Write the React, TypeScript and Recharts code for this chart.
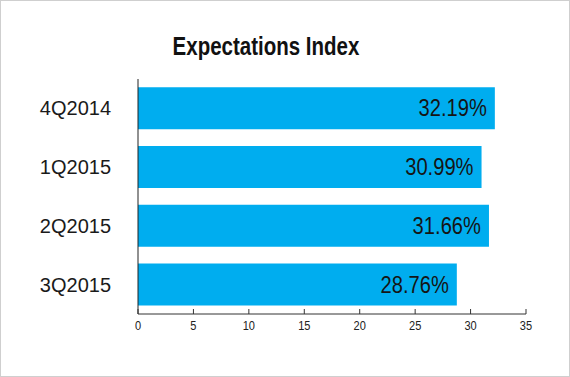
import React from "react";
import { BarChart, Bar, XAxis, YAxis, LabelList } from "recharts";

const categories = ["4Q2014", "1Q2015", "2Q2015", "3Q2015"];
const values = [32.19, 30.99, 31.66, 28.76];
const xTicks = [0, 5, 10, 15, 20, 25, 30, 35];
const title = "Expectations Index";

const data = categories.map((c, i) => ({ name: c, value: values[i] }));

const REG = "'Liberation Sans', Arial, Helvetica, sans-serif";
const SQ = 0.82;

const XTick = (props: any) => {
  const { x, y, payload } = props;
  return (
    <g>
      <line x1={x} x2={x} y1={y - 5} y2={y} stroke="#333" strokeWidth={1} />
      <text
        transform={`translate(${x},${y + 16}) scale(0.85,1)`}
        textAnchor="middle"
        fontFamily={REG}
        fontSize={13}
        fill="#222"
      >
        {payload.value}
      </text>
    </g>
  );
};

const ValueLabel = (props: any) => {
  const { x, y, width, height, value } = props;
  const tx = Number(x) + Number(width) - 8;
  const ty = Number(y) + Number(height) / 2;
  return (
    <text
      transform={`translate(${tx},${ty}) scale(0.84,1)`}
      textAnchor="end"
      dominantBaseline="central"
      fontFamily={REG}
      fontSize={24}
      fill="#151515"
    >
      {Number(value).toFixed(2) + "%"}
    </text>
  );
};

export default function App() {
  return (
    <div
      style={{
        position: "absolute",
        left: 0,
        top: 0,
        width: 570,
        height: 377,
        boxSizing: "border-box",
        border: "1px solid #cfcfcf",
        background: "#fff",
      }}
    >
      <div style={{ position: "absolute", left: -1, top: -1 }}>
        <BarChart
          width={570}
          height={377}
          data={data}
          layout="vertical"
          margin={{ top: 79, right: 44, bottom: 33, left: 18 }}
          barCategoryGap="14%"
        >
          <text
            transform={`translate(266,55) scale(${SQ},1)`}
            textAnchor="middle"
            fontFamily={REG}
            fontWeight="bold"
            fontSize={25}
            fill="#111"
          >
            {title}
          </text>
          <XAxis
            type="number"
            domain={[0, 35]}
            ticks={xTicks}
            height={30}
            tickSize={0}
            tickMargin={0}
            tickLine={false}
            axisLine={{ stroke: "#333", strokeWidth: 1 }}
            tick={<XTick />}
            interval={0}
          />
          <YAxis
            type="category"
            dataKey="name"
            width={120}
            tickLine={false}
            tickMargin={21}
            axisLine={{ stroke: "#222", strokeWidth: 1 }}
            tick={{ fontFamily: REG, fontSize: 20, fill: "#1a1a1a" }}
          />
          <Bar dataKey="value" fill="#00adef" isAnimationActive={false}>
            <LabelList dataKey="value" content={<ValueLabel />} />
          </Bar>
        </BarChart>
      </div>
    </div>
  );
}
